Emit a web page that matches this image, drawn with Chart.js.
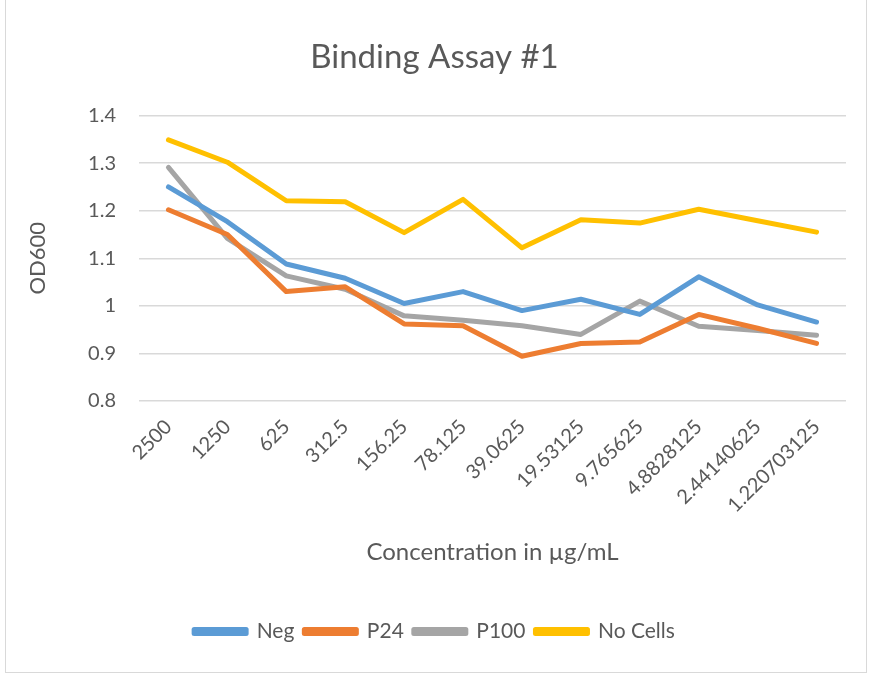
<!DOCTYPE html>
<html>
<head>
<meta charset="utf-8">
<script src="https://cdn.jsdelivr.net/npm/chart.js@4.4.1/dist/chart.umd.min.js"></script>
<style>
  body { margin: 0; background: #fff; }
  #frame { position: absolute; left: 5px; top: -1px; width: 860px; height: 672px; border: 1px solid #d9d9d9; }
  #wrap { position: absolute; left: 0; top: 0; width: 869px; height: 674px; }
</style>
</head>
<body>
<div id="frame"></div>
<div id="wrap"><canvas id="myChart"></canvas></div>
<script>
var concentrations = ['2500', '1250', '625', '312.5', '156.25', '78.125', '39.0625',
  '19.53125', '9.765625', '4.8828125', '2.44140625', '1.220703125'];
var neg = [1.250, 1.177, 1.088, 1.058, 1.005, 1.030, 0.990, 1.014, 0.982, 1.061, 1.002, 0.966];
var p24 = [1.202, 1.150, 1.030, 1.040, 0.962, 0.958, 0.894, 0.921, 0.924, 0.982, 0.953, 0.921];
var p100 = [1.291, 1.142, 1.063, 1.035, 0.979, 0.970, 0.958, 0.940, 1.010, 0.957, 0.948, 0.938];
var noCells = [1.349, 1.302, 1.221, 1.219, 1.154, 1.224, 1.122, 1.181, 1.174, 1.203, 1.179, 1.155];

var textColor = '#595959';
var fontName = 'Lato';

function makeSet(label, data, color) {
  return {
    label: label,
    data: data,
    borderColor: color,
    backgroundColor: color,
    borderWidth: 5,
    borderJoinStyle: 'round',
    borderCapStyle: 'round',
    pointRadius: 0,
    tension: 0,
    fill: false
  };
}

var ctx = document.getElementById('myChart').getContext('2d');
window.myLine = new Chart(ctx, {
  type: 'line',
  data: {
    labels: concentrations,
    datasets: [
      makeSet('Neg', neg, '#5B9BD5'),
      makeSet('P24', p24, '#ED7D31'),
      makeSet('P100', p100, '#A5A5A5'),
      makeSet('No Cells', noCells, '#FFC000')
    ]
  },
  options: {
    responsive: true,
    maintainAspectRatio: false,
    animation: false,
    layout: {
      padding: { top: 0, left: 0, right: 0, bottom: 22 }
    },
    plugins: {
      title: {
        display: true,
        text: 'Binding Assay #1',
        color: textColor,
        font: { family: fontName, size: 33, weight: 'normal' },
        padding: { top: 38, bottom: 38 }
      },
      legend: {
        position: 'bottom',
        labels: {
          color: textColor,
          font: { family: fontName, size: 21 },
          boxWidth: 52,
          boxHeight: 4,
          padding: 10
        }
      },
      tooltip: { enabled: false }
    },
    scales: {
      x: {
        grid: { display: false, drawTicks: false },
        border: { display: false },
        offset: true,
        ticks: {
          color: textColor,
          font: { family: fontName, size: 20 },
          minRotation: 45,
          maxRotation: 45,
          autoSkip: false,
          padding: 14
        },
        title: {
          display: true,
          text: 'Concentration in µg/mL',
          color: textColor,
          font: { family: fontName, size: 24 },
          padding: { top: 0, bottom: 44 }
        },
        afterFit: function (scale) {
          scale.height = 210;
        }
      },
      y: {
        min: 0.8,
        max: 1.4,
        grid: { color: '#d9d9d9', lineWidth: 1.5, drawTicks: false },
        border: { display: false },
        ticks: {
          stepSize: 0.1,
          color: textColor,
          font: { family: fontName, size: 20 },
          padding: 23,
          callback: function (v) {
            return Math.round(v * 10) / 10;
          }
        },
        title: {
          display: true,
          text: 'OD600',
          color: textColor,
          font: { family: fontName, size: 22 },
          padding: { top: 25, bottom: 0 }
        },
        afterFit: function (scale) {
          scale.width = 139;
        }
      },
      // empty strip on the right so the plot ends where Excel's does
      yRight: {
        position: 'right',
        min: 0.8,
        max: 1.4,
        grid: { display: false, drawTicks: false },
        border: { display: false },
        ticks: { display: false },
        afterFit: function (scale) {
          scale.width = 23;
        }
      }
    }
  }
});
</script>
</body>
</html>
